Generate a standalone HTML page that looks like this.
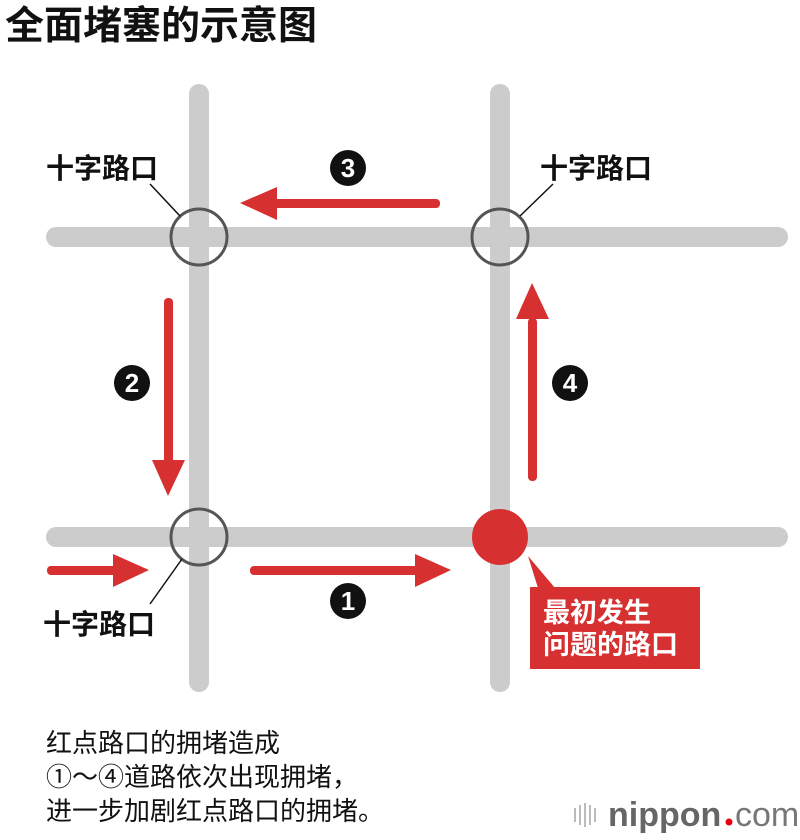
<!DOCTYPE html>
<html><head><meta charset="utf-8"><style>
body{margin:0;width:800px;height:840px;background:#fff;overflow:hidden;font-family:"Liberation Sans","Noto Sans CJK SC",sans-serif}
</style></head><body>
<svg width="800" height="840" xmlns="http://www.w3.org/2000/svg" style="position:absolute;left:0;top:0">
<g font-family="Liberation Sans, Noto Sans CJK SC, sans-serif">
<text x="5" y="39" font-size="39" font-weight="bold" fill="#111">全面堵塞的示意图</text>
<g stroke="#cccccc" stroke-width="20" stroke-linecap="round">
<line x1="199" y1="94" x2="199" y2="682"/>
<line x1="500" y1="94" x2="500" y2="682"/>
<line x1="56" y1="237" x2="778" y2="237"/>
<line x1="56" y1="537" x2="778" y2="537"/>
</g>
<g fill="none" stroke="#555" stroke-width="3">
<circle cx="199" cy="237" r="28"/>
<circle cx="500" cy="237" r="28"/>
<circle cx="199" cy="537" r="28"/>
</g>
<g stroke="#111" stroke-width="1.5">
<line x1="150" y1="184" x2="180" y2="216"/>
<line x1="553" y1="184" x2="520" y2="216"/>
<line x1="150" y1="604" x2="182" y2="559"/>
</g>
<g font-size="28" font-weight="bold" fill="#111">
<text x="46" y="178">十字路口</text>
<text x="540" y="178">十字路口</text>
<text x="43" y="634">十字路口</text>
</g>
<g fill="#d63031" stroke="none">
<rect x="270" y="199" width="170" height="9" rx="4"/>
<polygon points="240,203 277,187 277,220"/>
<rect x="164" y="298" width="9" height="166" rx="4"/>
<polygon points="168,496 152,460 185,460"/>
<rect x="528" y="318" width="9" height="163" rx="4"/>
<polygon points="532,283 516,319 549,319"/>
<rect x="47" y="566" width="72" height="9" rx="4"/>
<polygon points="149,570 113,554 113,587"/>
<rect x="250" y="566" width="170" height="9" rx="4"/>
<polygon points="451,570 415,554 415,587"/>
<circle cx="500" cy="537" r="28"/>
<polygon points="528,556 555,588 538,588"/>
<rect x="530" y="587" width="170" height="82"/>
</g>
<g font-size="27" font-weight="bold" fill="#fff">
<text x="543" y="622">最初发生</text>
<text x="543" y="654">问题的路口</text>
</g>
<g font-size="26" font-weight="bold" fill="#fff" text-anchor="middle">
<circle cx="348" cy="168" r="18" fill="#111"/><text x="348" y="177">3</text>
<circle cx="132" cy="383" r="18" fill="#111"/><text x="132" y="392">2</text>
<circle cx="570" cy="383" r="18" fill="#111"/><text x="570" y="392">4</text>
<circle cx="348" cy="601" r="18" fill="#111"/><text x="348" y="610">1</text>
</g>
<g font-size="26" fill="#111">
<text x="46" y="752">红点路口的拥堵造成</text>
<text x="46" y="786">①～④道路依次出现拥堵，</text>
<text x="46" y="820">进一步加剧红点路口的拥堵。</text>
</g>
<g stroke="#bbb" stroke-width="2">
<line x1="575" y1="808" x2="575" y2="822"/><line x1="580" y1="805" x2="580" y2="825"/><line x1="585" y1="803" x2="585" y2="827"/><line x1="590" y1="805" x2="590" y2="825"/><line x1="595" y1="808" x2="595" y2="822"/>
</g>
<text x="608" y="826" font-size="34" font-weight="bold" fill="#666">nippon</text>
<circle cx="729" cy="822" r="3.5" fill="#e60012"/>
<text x="735" y="826" font-size="34" fill="#777">com</text>
</g>
</svg>
</body></html>
